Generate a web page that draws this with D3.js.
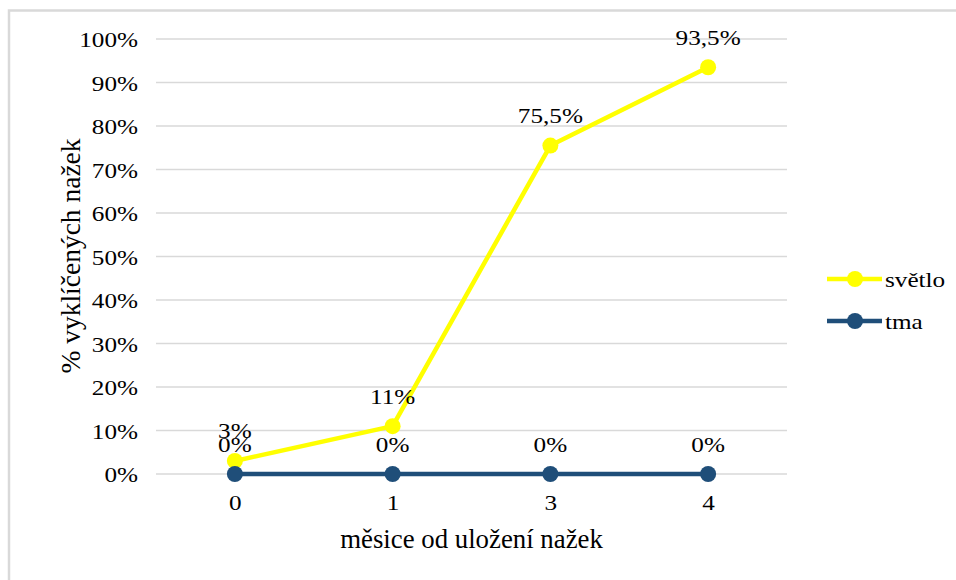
<!DOCTYPE html>
<html>
<head>
<meta charset="utf-8">
<script src="https://cdn.jsdelivr.net/npm/d3@7"></script>
<style>
  html, body { margin: 0; padding: 0; background: #fff; }
  svg { display: block; }
</style>
</head>
<body>
<svg id="chart" width="956" height="580"></svg>
<script>
// Germination of achenes over months of storage
const months = ["0", "1", "3", "4"];
const svetlo = [3, 11, 75.5, 93.5];
const tma = [0, 0, 0, 0];
const seriesNames = ["světlo", "tma"];
const seriesColors = ["#FFFF00", "#1F4E79"];
const yTicks = [0, 10, 20, 30, 40, 50, 60, 70, 80, 90, 100];

const series = [
  { name: seriesNames[0], values: svetlo, color: seriesColors[0] },
  { name: seriesNames[1], values: tma, color: seriesColors[1] }
];

const FONT = '"Liberation Serif", "Times New Roman", serif';
// labels are set at a base size and scaled down, slightly wide
const BASE = 30;
const SY = 21 / BASE;
const SX = SY * 1.2;

const svg = d3.select("#chart");
const W = 956, H = 580;
const margin = { left: 156, right: W - 787, top: 39, bottom: H - 474 };

// chart area border
svg.append("rect")
  .attr("x", 9).attr("y", 10.5)
  .attr("width", W + 10).attr("height", H + 10)
  .attr("fill", "#fff")
  .attr("stroke", "#d9d9d9").attr("stroke-width", 2.5);

const x = d3.scalePoint().domain(months)
  .range([margin.left, W - margin.right]).padding(0.5);
const y = d3.scaleLinear().domain([0, 100])
  .range([H - margin.bottom, margin.top]);

const fmt = v => String(v).replace(".", ",") + "%";

function styleLabel(sel) {
  return sel
    .style("font-family", FONT)
    .style("font-size", BASE + "px")
    .attr("fill", "#000");
}

// a label anchored at (px, py)
function label(parent, px, py, str, anchor) {
  return styleLabel(parent.append("text"))
    .attr("transform", `translate(${px},${py}) scale(${SX},${SY})`)
    .attr("text-anchor", anchor || "middle")
    .text(str);
}

// horizontal gridlines
svg.append("g")
  .selectAll("line").data(yTicks).join("line")
  .attr("x1", margin.left).attr("x2", W - margin.right)
  .attr("y1", d => y(d)).attr("y2", d => y(d))
  .attr("stroke", "#d9d9d9").attr("stroke-width", 1.5);

// y axis
const yAxis = svg.append("g")
  .attr("transform", `translate(${margin.left},0)`)
  .call(d3.axisLeft(y).tickValues(yTicks).tickFormat(d => d + "%").tickSize(0));
yAxis.select(".domain").remove();
styleLabel(yAxis.selectAll("text"))
  .attr("x", -18 / SX)
  .attr("dy", "0.38em")
  .attr("transform", `scale(${SX},${SY})`);

// x axis
const xAxis = svg.append("g")
  .attr("transform", `translate(0,${H - margin.bottom})`)
  .call(d3.axisBottom(x).tickSize(0));
xAxis.select(".domain").remove();
styleLabel(xAxis.selectAll("text"))
  .attr("y", 21 / SY)
  .attr("dy", "0.71em")
  .attr("transform", `scale(${SX},${SY})`);

// axis titles
svg.append("text")
  .attr("x", 471.5)
  .attr("y", 548)
  .attr("text-anchor", "middle")
  .style("font-family", FONT)
  .style("font-size", "26.8px")
  .attr("fill", "#000")
  .text("měsice od uložení nažek");

svg.append("text")
  .attr("transform", `translate(80,256) rotate(-90)`)
  .attr("text-anchor", "middle")
  .style("font-family", FONT)
  .style("font-size", "27.5px")
  .attr("fill", "#000")
  .text("% vyklíčených nažek");

// series lines and markers
const line = d3.line().x((d, i) => x(months[i])).y(d => y(d));
series.forEach(s => {
  const g = svg.append("g");
  g.append("path")
    .datum(s.values)
    .attr("d", line)
    .attr("fill", "none")
    .attr("stroke", s.color)
    .attr("stroke-width", 4.5)
    .attr("stroke-linejoin", "round");
  g.selectAll("circle").data(s.values).join("circle")
    .attr("cx", (d, i) => x(months[i]))
    .attr("cy", d => y(d))
    .attr("r", 8)
    .attr("fill", s.color);
});

// data labels
series.forEach(s => {
  const g = svg.append("g");
  s.values.forEach((v, i) => label(g, x(months[i]), y(v) - 22.5, fmt(v)));
});

// legend
const legend = svg.append("g");
series.forEach((s, i) => {
  const ly = 279 + i * 42;
  legend.append("line")
    .attr("x1", 827).attr("x2", 882)
    .attr("y1", ly).attr("y2", ly)
    .attr("stroke", s.color).attr("stroke-width", 4.5);
  legend.append("circle")
    .attr("cx", 855).attr("cy", ly).attr("r", 8)
    .attr("fill", s.color);
  label(legend, 885, ly + 8, s.name, "start");
});
</script>
</body>
</html>
